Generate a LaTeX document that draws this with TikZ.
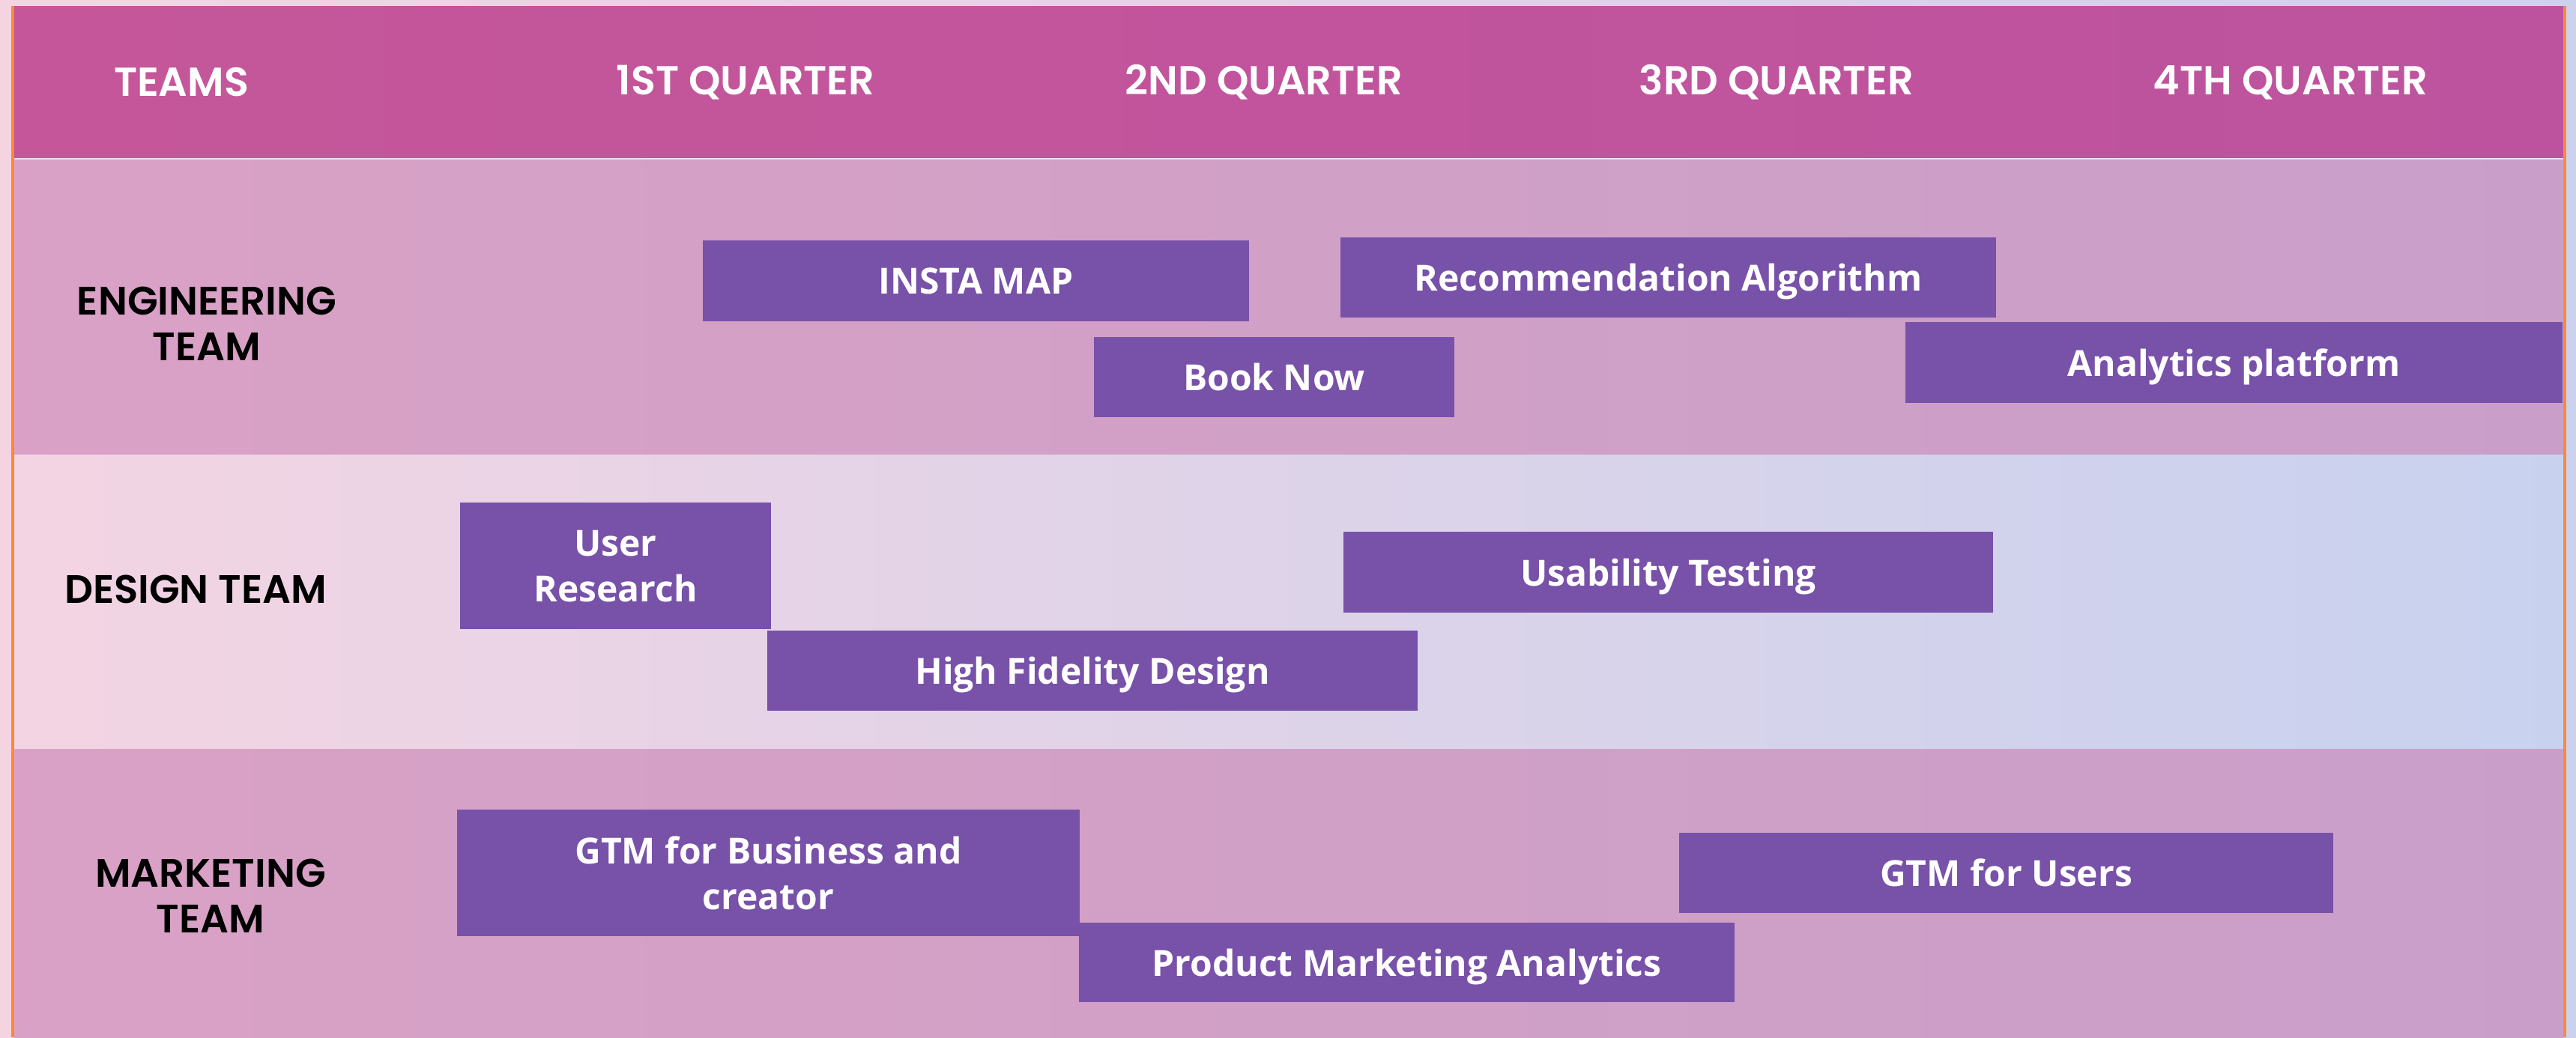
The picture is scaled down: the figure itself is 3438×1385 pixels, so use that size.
\documentclass[tikz,border=0pt]{standalone}
\usepackage{fontspec}
\setmainfont{Open Sans}
\newfontfamily\headfont{Poppins}[UprightFont=* SemiBold]
\definecolor{pageleft}{HTML}{F5D4E2}
\definecolor{pageright}{HTML}{CCD2EE}
\definecolor{headpink}{HTML}{C5569A}
\definecolor{rowleft}{HTML}{D9A1C5}
\definecolor{rowright}{HTML}{C99FC9}
\definecolor{midleft}{HTML}{F3D4E3}
\definecolor{midright}{HTML}{C8D2EF}
\definecolor{barpurple}{HTML}{7851A9}
\definecolor{edgeorange}{HTML}{FF8833}
\begin{document}
\begin{tikzpicture}[x=1pt,y=-1pt,
  bar/.style={fill=barpurple,text=white,inner sep=0pt,align=center,text depth=0pt,
    font=\fontsize{48}{61}\selectfont\bfseries},
  head/.style={text=white,font=\headfont\fontsize{54}{60}\selectfont},
  team/.style={text=black,align=center,font=\headfont\fontsize{53}{61}\selectfont}]
\useasboundingbox (0,0) rectangle (3438,1385);
\shade[left color=pageleft,right color=pageright] (0,0) rectangle (3438,1385);

% header and team rows
\shade[left color=headpink,right color=headpink!96!blue] (19,8) rectangle (3421,212);
\shade[left color=rowleft,right color=rowright] (19,212) rectangle (3421,607);
\shade[left color=midleft,right color=midright] (19,607) rectangle (3421,1000);
\shade[left color=rowleft,right color=rowright] (19,1000) rectangle (3421,1385);
\draw[white!80!headpink,line width=1.5pt] (19,212) -- (3421,212);
\fill[edgeorange] (15,8) rectangle (19,1385);
\fill[edgeorange] (3421,8) rectangle (3425,1385);

\node[head] (teams) at (242,110) {TEAMS};
\node[head] (q1) at (995,110) {1ST QUARTER};
\node[head] (q2) at (1687,110) {2ND QUARTER};
\node[head] (q3) at (2371,110) {3RD QUARTER};
\node[head] (q4) at (3057,110) {4TH QUARTER};

\node[team] (eng) at (276,432) {ENGINEERING\\TEAM};
\node[team] (des) at (261,787) {DESIGN TEAM};
\node[team] (mkt) at (281,1196) {MARKETING\\TEAM};

% engineering
\node[bar,minimum width=729,minimum height=108] (insta) at (1302.5,375) {INSTA MAP};
\node[bar,minimum width=875,minimum height=107] (recalg) at (2226.5,370.5) {Recommendation Algorithm};
\node[bar,minimum width=481,minimum height=107] (book) at (1700.5,503.5) {Book Now};
\node[bar,minimum width=877,minimum height=108] (analytics) at (2981.5,484) {Analytics platform};

% design
\node[bar,minimum width=415,minimum height=169] (userres) at (821.5,755.5) {User\\Research};
\node[bar,minimum width=868,minimum height=107] (hifi) at (1458,895.5) {High Fidelity Design};
\node[bar,minimum width=867,minimum height=108] (usab) at (2226.5,764) {Usability Testing};

% marketing
\node[bar,minimum width=831,minimum height=169] (gtmbiz) at (1025.5,1165.5) {GTM for Business and\\creator};
\node[bar,minimum width=875,minimum height=106] (pma) at (1877.5,1285) {Product Marketing Analytics};
\node[bar,minimum width=873,minimum height=107] (gtmusers) at (2677.5,1165.5) {GTM for Users};
\end{tikzpicture}
\end{document}
